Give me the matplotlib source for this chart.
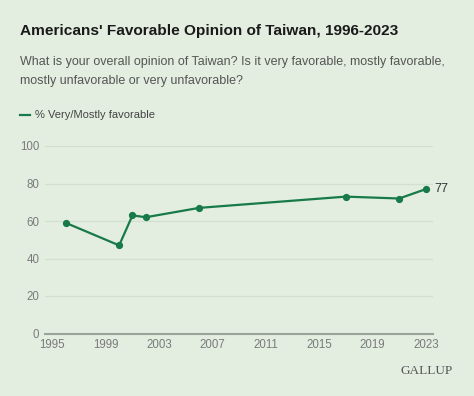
import matplotlib
matplotlib.use("Agg")
import matplotlib.pyplot as plt

# Data
years = [1996, 2000, 2001, 2002, 2006, 2017, 2021, 2023]
favorable = [59, 47, 63, 62, 67, 73, 72, 77]
x_ticks = [1995, 1999, 2003, 2007, 2011, 2015, 2019, 2023]
y_ticks = [0, 20, 40, 60, 80, 100]

title = "Americans' Favorable Opinion of Taiwan, 1996-2023"
subtitle = ("What is your overall opinion of Taiwan? Is it very favorable, mostly favorable,\n"
            "mostly unfavorable or very unfavorable?")
series_name = "% Very/Mostly favorable"

bg = "#e3eee0"
green = "#177a48"

plt.rcParams['font.family'] = ['Liberation Sans', 'DejaVu Sans']

fig = plt.figure(figsize=(4.74, 3.96), dpi=100, facecolor=bg)
ax = fig.add_axes([45 / 474, 1 - 333.5 / 396, (433.3 - 45) / 474, (333.5 - 146) / 396])
ax.set_facecolor(bg)

ax.plot(years, favorable, color=green, lw=1.6, marker='o', ms=4.2, clip_on=False, zorder=3)
ax.annotate(str(favorable[-1]), (years[-1], favorable[-1]), xytext=(6, 0),
            textcoords='offset points', va='center', ha='left', fontsize=9, color='#333333')

ax.set_xlim(1994.44, 2023.56)
ax.set_ylim(0, 100)
ax.set_xticks(x_ticks)
ax.set_yticks(y_ticks)
ax.tick_params(axis='both', length=0, labelsize=8.3, labelcolor='#7a7a7a')
ax.tick_params(axis='x', pad=4)
ax.tick_params(axis='y', pad=4)
ax.grid(axis='y', color='#d3dfd1', lw=1)
ax.set_axisbelow(True)
for s in ['top', 'right', 'left']:
    ax.spines[s].set_visible(False)
ax.spines['bottom'].set_color('#9aa59a')
ax.spines['bottom'].set_linewidth(1.5)

fig.text(20 / 474, 1 - 31.5 / 396, title, fontsize=11.1, fontweight='bold', color='#1a1a1a',
         va='center', ha='left')
fig.text(20 / 474, 1 - 56 / 396, subtitle, fontsize=9, color='#555555',
         va='top', ha='left', linespacing=1.8)

fig.add_artist(plt.Line2D([20 / 474, 30 / 474], [1 - 115 / 396] * 2, color=green, lw=1.6))
fig.text(35 / 474, 1 - 115 / 396, series_name, fontsize=8, color='#444444', va='center', ha='left')

fig.text(453 / 474, 1 - 371 / 396, "GALLUP", fontsize=9.5, color='#555555', va='center',
         ha='right', family='Liberation Serif')

fig.savefig("out.png", dpi=100, facecolor=bg)
